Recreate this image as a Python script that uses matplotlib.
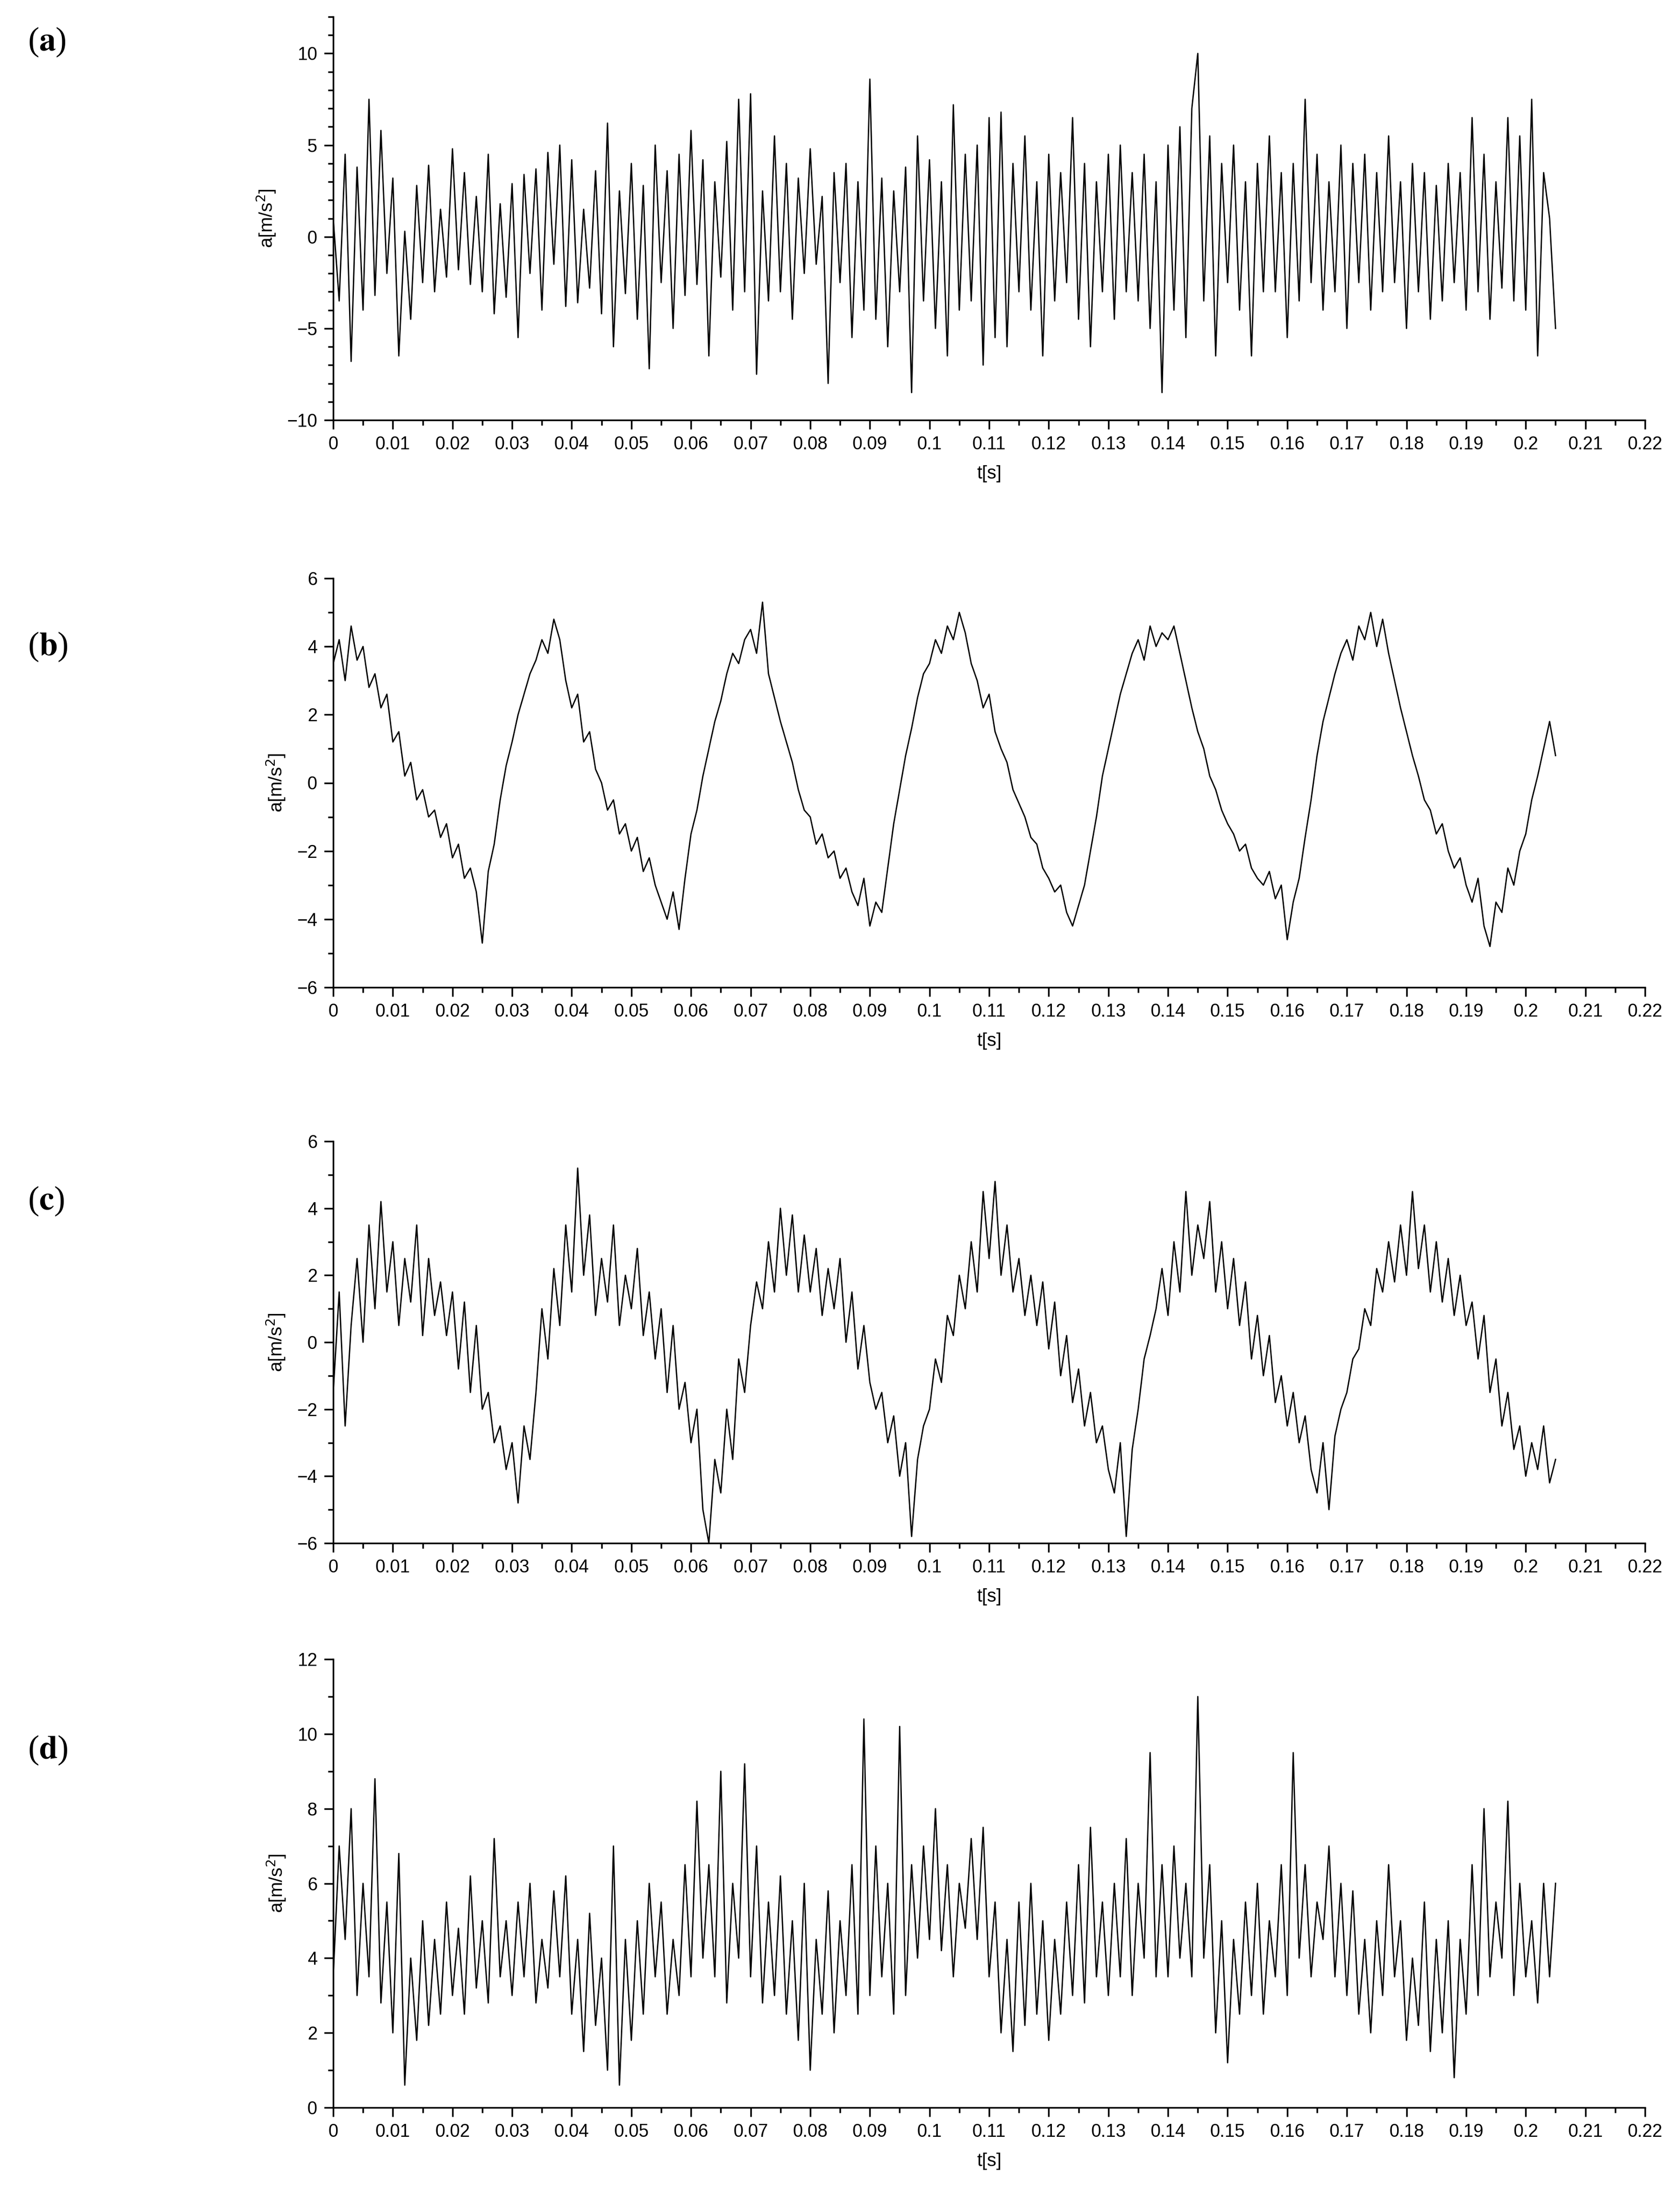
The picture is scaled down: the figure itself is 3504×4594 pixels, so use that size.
import numpy as np
import matplotlib
matplotlib.use("Agg")
import matplotlib.pyplot as plt
from matplotlib.ticker import MultipleLocator, FuncFormatter

# time axis, 1 ms steps 0 .. 0.205 s
t = np.arange(206) * 0.001

acc_a = [float(v) for v in """
1.0 -3.5 4.5 -6.8 3.8 -4.0 7.5 -3.2 5.8 -2.0
3.2 -6.5 0.3 -4.5 2.8 -2.5 3.9 -3.0 1.5 -2.2
4.8 -1.8 3.5 -2.6 2.2 -3.0 4.5 -4.2 1.8 -3.3
2.9 -5.5 3.4 -2.0 3.7 -4.0 4.6 -1.5 5.0 -3.8
4.2 -3.6 1.5 -2.8 3.6 -4.2 6.2 -6.0 2.5 -3.1
4.0 -4.5 2.8 -7.2 5.0 -2.5 3.6 -5.0 4.5 -3.2
5.8 -2.6 4.2 -6.5 3.0 -2.2 5.2 -4.0 7.5 -3.0
7.8 -7.5 2.5 -3.5 5.5 -3.0 4.0 -4.5 3.2 -2.0
4.8 -1.5 2.2 -8.0 3.5 -2.5 4.0 -5.5 3.0 -4.0
8.6 -4.5 3.2 -6.0 2.5 -3.0 3.8 -8.5 5.5 -3.5
4.2 -5.0 3.0 -6.5 7.2 -4.0 4.5 -3.5 5.0 -7.0
6.5 -5.5 6.8 -6.0 4.0 -3.0 5.5 -4.0 3.0 -6.5
4.5 -3.5 3.5 -2.5 6.5 -4.5 4.0 -6.0 3.0 -3.0
4.5 -4.5 5.0 -3.0 3.5 -3.5 4.5 -5.0 3.0 -8.5
5.0 -4.0 6.0 -5.5 7.0 10.0 -3.5 5.5 -6.5 4.0
-2.5 5.0 -4.0 3.0 -6.5 4.0 -3.0 5.5 -3.0 3.5
-5.5 4.0 -3.5 7.5 -2.5 4.5 -4.0 3.0 -3.0 5.0
-5.0 4.0 -2.5 4.5 -4.0 3.5 -3.0 5.5 -2.5 3.0
-5.0 4.0 -3.0 3.5 -4.5 2.8 -3.5 4.0 -2.5 3.5
-4.0 6.5 -3.0 4.5 -4.5 3.0 -2.8 6.5 -3.5 5.5
-4.0 7.5 -6.5 3.5 1.0 -5.0
""".split()]

acc_b = [float(v) for v in """
3.5 4.2 3.0 4.6 3.6 4.0 2.8 3.2 2.2 2.6
1.2 1.5 0.2 0.6 -0.5 -0.2 -1.0 -0.8 -1.6 -1.2
-2.2 -1.8 -2.8 -2.5 -3.2 -4.7 -2.6 -1.8 -0.5 0.5
1.2 2.0 2.6 3.2 3.6 4.2 3.8 4.8 4.2 3.0
2.2 2.6 1.2 1.5 0.4 0.0 -0.8 -0.5 -1.5 -1.2
-2.0 -1.6 -2.6 -2.2 -3.0 -3.5 -4.0 -3.2 -4.3 -2.8
-1.5 -0.8 0.2 1.0 1.8 2.4 3.2 3.8 3.5 4.2
4.5 3.8 5.3 3.2 2.5 1.8 1.2 0.6 -0.2 -0.8
-1.0 -1.8 -1.5 -2.2 -2.0 -2.8 -2.5 -3.2 -3.6 -2.8
-4.2 -3.5 -3.8 -2.5 -1.2 -0.2 0.8 1.6 2.5 3.2
3.5 4.2 3.8 4.6 4.2 5.0 4.4 3.5 3.0 2.2
2.6 1.5 1.0 0.6 -0.2 -0.6 -1.0 -1.6 -1.8 -2.5
-2.8 -3.2 -3.0 -3.8 -4.2 -3.6 -3.0 -2.0 -1.0 0.2
1.0 1.8 2.6 3.2 3.8 4.2 3.6 4.6 4.0 4.4
4.2 4.6 3.8 3.0 2.2 1.5 1.0 0.2 -0.2 -0.8
-1.2 -1.5 -2.0 -1.8 -2.5 -2.8 -3.0 -2.6 -3.4 -3.0
-4.6 -3.5 -2.8 -1.6 -0.5 0.8 1.8 2.5 3.2 3.8
4.2 3.6 4.6 4.2 5.0 4.0 4.8 3.8 3.0 2.2
1.5 0.8 0.2 -0.5 -0.8 -1.5 -1.2 -2.0 -2.5 -2.2
-3.0 -3.5 -2.8 -4.2 -4.8 -3.5 -3.8 -2.5 -3.0 -2.0
-1.5 -0.5 0.2 1.0 1.8 0.8
""".split()]

acc_c = [float(v) for v in """
-1.5 1.5 -2.5 0.5 2.5 0.0 3.5 1.0 4.2 1.5
3.0 0.5 2.5 1.2 3.5 0.2 2.5 0.8 1.8 0.2
1.5 -0.8 1.2 -1.5 0.5 -2.0 -1.5 -3.0 -2.5 -3.8
-3.0 -4.8 -2.5 -3.5 -1.5 1.0 -0.5 2.2 0.5 3.5
1.5 5.2 2.0 3.8 0.8 2.5 1.2 3.5 0.5 2.0
1.0 2.8 0.2 1.5 -0.5 1.0 -1.5 0.5 -2.0 -1.2
-3.0 -2.0 -5.0 -6.0 -3.5 -4.5 -2.0 -3.5 -0.5 -1.5
0.5 1.8 1.0 3.0 1.5 4.0 2.0 3.8 1.5 3.2
1.5 2.8 0.8 2.2 1.0 2.5 0.0 1.5 -0.8 0.5
-1.2 -2.0 -1.5 -3.0 -2.2 -4.0 -3.0 -5.8 -3.5 -2.5
-2.0 -0.5 -1.2 0.8 0.2 2.0 1.0 3.0 1.5 4.5
2.5 4.8 2.0 3.5 1.5 2.5 0.8 2.0 0.5 1.8
-0.2 1.2 -1.0 0.2 -1.8 -0.8 -2.5 -1.5 -3.0 -2.5
-3.8 -4.5 -3.0 -5.8 -3.2 -2.0 -0.5 0.2 1.0 2.2
0.8 3.0 1.5 4.5 2.0 3.5 2.5 4.2 1.5 3.0
1.0 2.5 0.5 1.8 -0.5 0.8 -1.0 0.2 -1.8 -1.0
-2.5 -1.5 -3.0 -2.2 -3.8 -4.5 -3.0 -5.0 -2.8 -2.0
-1.5 -0.5 -0.2 1.0 0.5 2.2 1.5 3.0 1.8 3.5
2.0 4.5 2.2 3.5 1.5 3.0 1.2 2.5 0.8 2.0
0.5 1.2 -0.5 0.8 -1.5 -0.5 -2.5 -1.5 -3.2 -2.5
-4.0 -3.0 -3.8 -2.5 -4.2 -3.5
""".split()]

acc_d = [float(v) for v in """
3.5 7.0 4.5 8.0 3.0 6.0 3.5 8.8 2.8 5.5
2.0 6.8 0.6 4.0 1.8 5.0 2.2 4.5 2.5 5.5
3.0 4.8 2.5 6.2 3.2 5.0 2.8 7.2 3.5 5.0
3.0 5.5 3.5 6.0 2.8 4.5 3.2 5.8 3.5 6.2
2.5 4.5 1.5 5.2 2.2 4.0 1.0 7.0 0.6 4.5
1.8 5.0 2.5 6.0 3.5 5.5 2.5 4.5 3.0 6.5
3.5 8.2 4.0 6.5 3.5 9.0 2.8 6.0 4.0 9.2
3.5 7.0 2.8 5.5 3.0 6.2 2.5 5.0 1.8 6.0
1.0 4.5 2.5 5.8 2.0 5.0 3.0 6.5 2.5 10.4
3.0 7.0 3.5 6.0 2.5 10.2 3.0 6.5 4.0 7.0
4.5 8.0 4.2 6.5 3.5 6.0 4.8 7.2 4.5 7.5
3.5 5.5 2.0 4.5 1.5 5.5 2.2 6.0 2.5 5.0
1.8 4.5 2.5 5.5 3.0 6.5 2.8 7.5 3.5 5.5
3.0 6.0 3.5 7.2 3.0 6.0 4.0 9.5 3.5 6.5
3.5 7.0 4.0 6.0 3.5 11.0 4.0 6.5 2.0 5.0
1.2 4.5 2.5 5.5 3.0 6.0 2.5 5.0 3.5 6.5
3.0 9.5 4.0 6.5 3.5 5.5 4.5 7.0 3.5 6.0
3.0 5.8 2.5 4.5 2.0 5.0 3.0 6.5 3.5 5.0
1.8 4.0 2.2 5.5 1.5 4.5 2.0 5.0 0.8 4.5
2.5 6.5 3.0 8.0 3.5 5.5 4.0 8.2 3.0 6.0
3.5 5.0 2.8 6.0 3.5 6.0
""".split()]

series = [acc_a, acc_b, acc_c, acc_d]
labels = ["a", "b", "c", "d"]
ylims = [(-10, 12), (-6, 6), (-6, 6), (0, 12)]
ymajor = [5, 2, 2, 2]

W, H = 3505, 4594
fig = plt.figure(figsize=(W / 100, H / 100), dpi=100)
plt.rcParams['font.family'] = ['Liberation Sans', 'DejaVu Sans']
plt.rcParams['axes.unicode_minus'] = True

# axes boxes in pixels: (top, bottom)
boxes = [(35, 876), (1206, 2059), (2380, 3218), (3460, 4395)]
lab_y = [88, 1349, 2505, 3650]
x0, x1 = 695, 3431

xfmt = FuncFormatter(lambda v, p: "%g" % round(v, 3))

for i in range(4):
    top, bot = boxes[i]
    ax = fig.add_axes([x0 / W, 1 - bot / H, (x1 - x0) / W, (bot - top) / H])
    ax.plot(t, series[i], color="black", lw=2)
    ax.set_xlim(0, 0.22)
    ax.set_ylim(*ylims[i])
    ax.xaxis.set_major_locator(MultipleLocator(0.01))
    ax.xaxis.set_minor_locator(MultipleLocator(0.005))
    ax.xaxis.set_major_formatter(xfmt)
    ax.yaxis.set_major_locator(MultipleLocator(ymajor[i]))
    ax.yaxis.set_minor_locator(MultipleLocator(1))
    ax.tick_params(which="major", direction="out", length=14, width=2.5, labelsize=27, pad=10)
    ax.tick_params(which="minor", direction="out", length=8, width=2.5)
    for s in ["top", "right"]:
        ax.spines[s].set_visible(False)
    for s in ["left", "bottom"]:
        ax.spines[s].set_linewidth(2.5)
    ax.set_xlabel("t[s]", fontsize=28, labelpad=18)
    ax.set_ylabel("a[m/s$^2$]", fontsize=28, labelpad=14)
    fig.text(58 / W, 1 - lab_y[i] / H, "(" + r"$\mathbf{" + labels[i] + "}$" + ")", fontsize=50,
             family="Liberation Serif", va="center", ha="left",
             math_fontfamily="stix")

fig.savefig("out.png", dpi=100)
